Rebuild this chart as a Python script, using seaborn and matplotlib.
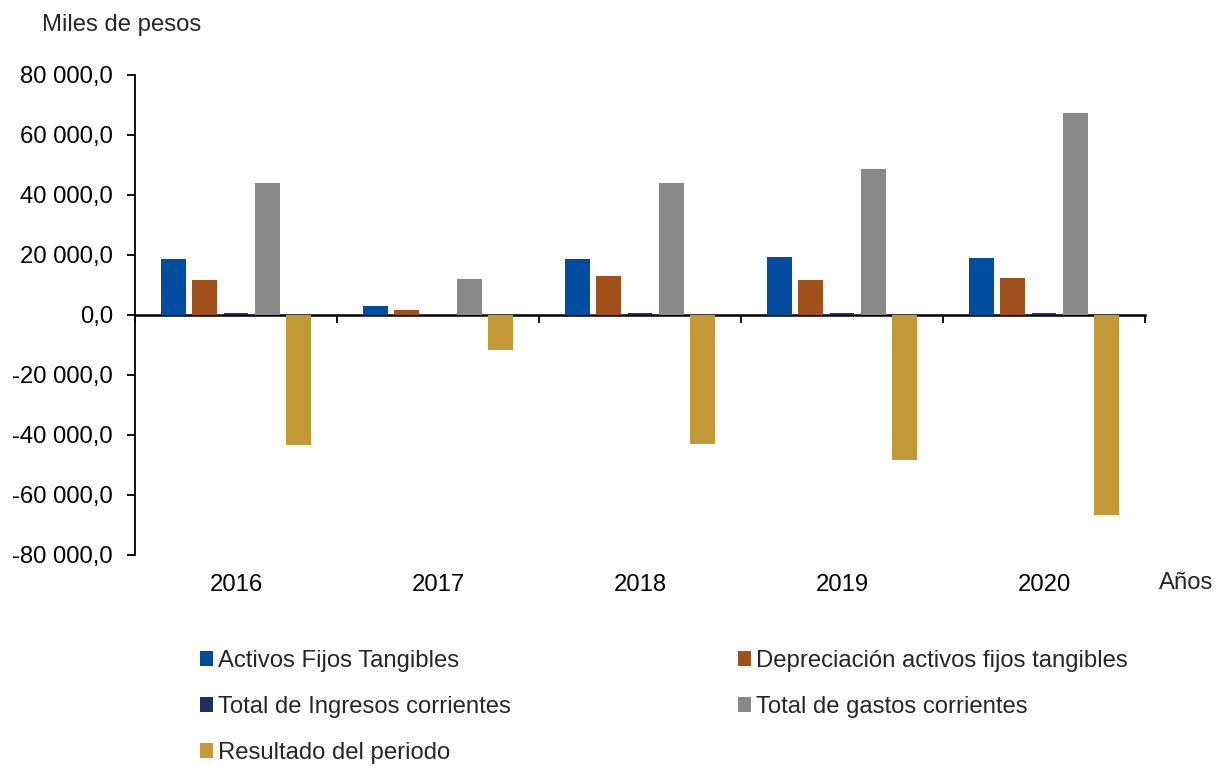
import pandas as pd
import numpy as np
import matplotlib
matplotlib.use('Agg')
import matplotlib.pyplot as plt
import matplotlib.ticker as mticker
from matplotlib.patches import Patch
import seaborn as sns

########################### DATA ###################################################

years = ['2016', '2017', '2018', '2019', '2020']
activos = [18600, 3000, 18600, 19300, 18900]
depreciacion = [11700, 1600, 12900, 11700, 12200]
ingresos = [700, 100, 700, 600, 600]
gastos = [44100, 11900, 44000, 48700, 67300]
resultado = [-43400, -11700, -43100, -48300, -66700]

series_names = ['Activos Fijos Tangibles', 'Depreciación activos fijos tangibles',
                'Total de Ingresos corrientes', 'Total de gastos corrientes',
                'Resultado del periodo']
colors = ['#004C9E', '#A0501A', '#1F3060', '#898989', '#C49A38']

df = pd.DataFrame({'year': years,
                   series_names[0]: activos,
                   series_names[1]: depreciacion,
                   series_names[2]: ingresos,
                   series_names[3]: gastos,
                   series_names[4]: resultado})
long_df = df.melt(id_vars='year', var_name='serie', value_name='valor')

########################### PLOT ###################################################

sns.set_style('white')
plt.rcParams['font.family'] = ['Liberation Sans', 'DejaVu Sans']
fs = 17.2

fig = plt.figure(figsize=(12.17, 7.66), dpi=100)
ax = fig.add_axes([135 / 1217, 1 - 555 / 766, (1145 - 135) / 1217, 480 / 766])

sns.barplot(data=long_df, x='year', y='valor', hue='serie', hue_order=series_names,
            palette=colors, width=0.77, gap=0.2, saturation=1, legend=False, ax=ax,
            linewidth=0)

ax.set_xlim(-0.5, 4.5)
ax.set_ylim(-80000, 80000)
ax.yaxis.set_major_locator(mticker.MultipleLocator(20000))
ax.yaxis.set_major_formatter(mticker.FuncFormatter(
    lambda v, p: f'{v:,.1f}'.replace(',', ' ').replace('.', ',')))

for s in ['top', 'right', 'bottom']:
    ax.spines[s].set_visible(False)
ax.spines['left'].set_color('black')
ax.spines['left'].set_linewidth(1.3)

ax.tick_params(axis='y', direction='out', length=6, width=1.3, color='black',
               left=True, labelsize=fs, pad=10, labelcolor='black')
ax.tick_params(axis='x', length=0, labelsize=fs, pad=14, labelcolor='black')
ax.set_xlabel('')
ax.set_ylabel('')

# zero line with category boundary ticks
zero = ax.secondary_xaxis(0.5)
zero.set_alignment('bottom')
zero.set_xticks(np.arange(-0.5, 5, 1))
zero.set_xticklabels([])
zero.tick_params(direction='out', length=6, width=1.3, color='black',
                 bottom=True, top=False, labelbottom=False, labeltop=False)
for s in zero.spines.values():
    s.set_linewidth(1.8)
    s.set_color('black')

fig.text(42 / 1217, 1 - 25 / 766, 'Miles de pesos', fontsize=fs, va='center', ha='left')
fig.text(1159 / 1217, 1 - 583 / 766, 'Años', fontsize=fs, va='center', ha='left')

# legend laid out row by row
order = [0, 2, 4, 1, 3]
handles = [Patch(facecolor=colors[i], edgecolor='none') for i in order]
labels = [series_names[i] for i in order]
fig.legend(handles, labels, loc='upper left', bbox_to_anchor=(200 / 1217, 1 - 650 / 766),
           ncol=2, frameon=False, fontsize=fs, handlelength=0.55, handleheight=0.55,
           handletextpad=0.2, labelspacing=1.0, columnspacing=9.5, borderpad=0,
           borderaxespad=0)

fig.savefig('out.png', dpi=100)
